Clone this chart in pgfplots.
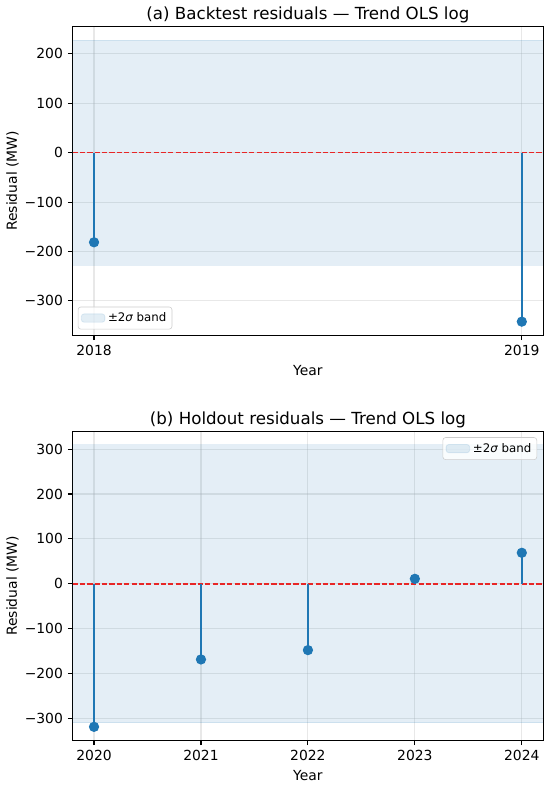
\documentclass[border=0pt]{standalone}
\usepackage{fontspec}
\setmainfont{DejaVu Sans}
\usepackage{pgfplots}
\pgfplotsset{compat=1.18}
\definecolor{mplblue}{HTML}{1F77B4}
\definecolor{zred}{RGB}{232,38,38}
\pgfplotsset{
  resid/.style={
    scale only axis, width=338.8pt, height=222.2pt,
    axis line style={line width=0.8pt},
    tick align=outside, xtick pos=left, ytick pos=left,
    major tick length=3.5pt,
    every tick/.style={black, line width=0.8pt},
    grid=major,
    major grid style={color=gray!60, opacity=0.3, line width=0.8pt},
    tick label style={font=\fontsize{10}{12}\selectfont},
    /pgf/number format/assume math mode=true,
    label style={font=\fontsize{10}{12}\selectfont},
    ylabel style={xshift=0pt, yshift=-2.5pt},
    title style={font=\fontsize{12}{14}\selectfont, yshift=-6.8pt},
    xlabel={Year}, ylabel={Residual (MW)},
    legend style={font=\fontsize{8.5}{10}\selectfont, draw=black!20, rounded corners=2pt,
      fill=white, fill opacity=0.8, text opacity=1, inner sep=2pt},
    legend cell align=left,
  },
  band/.style={fill=mplblue, fill opacity=0.12, draw=mplblue, draw opacity=0.12, line width=0.6pt,
    legend image code/.code={\path[##1] (0pt,-3pt) rectangle (17pt,3pt);}},
  stem/.style={ycomb, color=mplblue, line width=1.5pt, mark=*, mark size=2.9pt,
    mark options={solid, fill=mplblue, draw=mplblue}},
  zero/.style={draw=zred, color=zred, line width=1.2pt, dash pattern=on 3.7pt off 1.6pt},
}
\begin{document}
\begin{tikzpicture}
\useasboundingbox (0,0) rectangle (396pt,-565.2pt);
\begin{axis}[resid, at={(52.3pt,-19.2pt)}, anchor=north west,
  title={(a) Backtest residuals — Trend OLS log},
  xmin=2017.95, xmax=2019.05, ymin=-369.6, ymax=255,
  xtick={2018,2019}, xticklabels={2018,2019},
  ytick={-300,-200,-100,0,100,200},
  yticklabels={−300,−200,−100,0,100,200},
  legend style={at={(0.011,0.019)}, anchor=south west}]
\addplot[band] coordinates {(2017.95,-228) (2019.05,-228) (2019.05,228) (2017.95,228)} -- cycle;
\addlegendentry{±2{\itshape σ} band}
\addplot[zero, forget plot] coordinates {(2017.95,0) (2019.05,0)};
\addplot[stem, forget plot] coordinates {(2018,-181.4) (2019,-342)};
\end{axis}
\begin{axis}[resid, at={(52.3pt,-310.8pt)}, anchor=north west,
  title={(b) Holdout residuals — Trend OLS log},
  xmin=2019.8, xmax=2024.2, ymin=-349, ymax=339,
  xtick={2020,2021,2022,2023,2024}, xticklabels={2020,2021,2022,2023,2024},
  ytick={-300,-200,-100,0,100,200,300},
  yticklabels={−300,−200,−100,0,100,200,300},
  legend style={at={(0.987,0.982)}, anchor=north east}]
\addplot[band] coordinates {(2019.8,-310) (2024.2,-310) (2024.2,310) (2019.8,310)} -- cycle;
\addlegendentry{±2{\itshape σ} band}
\addplot[zero, forget plot] coordinates {(2019.8,0) (2024.2,0)};
\addplot[stem, forget plot] coordinates {(2020,-319) (2021,-168.8) (2022,-148) (2023,11) (2024,69)};
\end{axis}
\end{tikzpicture}
\end{document}
